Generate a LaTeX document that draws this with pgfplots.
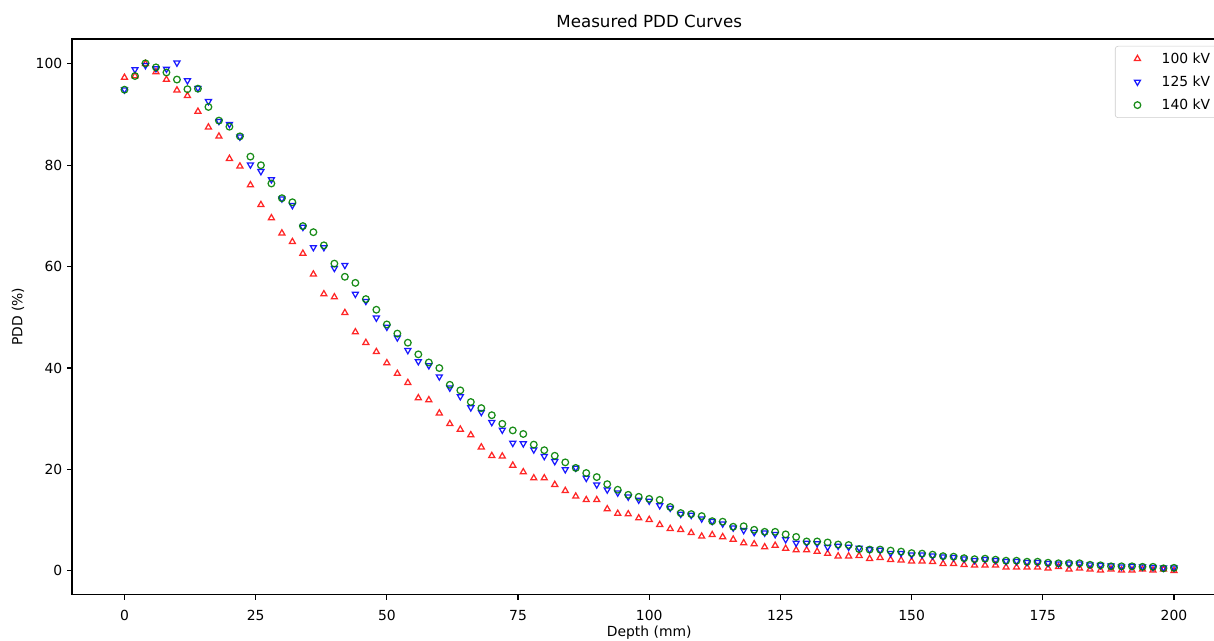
\documentclass[border=0pt]{standalone}
\usepackage{pgfplots}
\pgfplotsset{compat=1.18}
\usepackage{fontspec}
\setmainfont{DejaVu Sans}
\definecolor{mplgreen}{HTML}{008000}
\pgfplotsset{myleg/.style={legend image code/.code={\path[draw=none,fill=none] (0bp,-3bp) rectangle (27bp,3bp); \draw[##1, mark repeat=2, mark phase=2] plot coordinates {(0bp,0bp)(11.5bp,0bp)(23bp,0bp)};}}}
\begin{document}
\fontsize{10bp}{12bp}\selectfont
\begin{tikzpicture}
\begin{axis}[
  at={(0,0)}, anchor=south west,
  scale only axis, width=831.2bp, height=400.1bp,
  xmin=-10, xmax=210, ymin=-4.7, ymax=104.9,
  xtick={0,25,50,75,100,125,150,175,200},
  ytick={0,20,40,60,80,100},
  tick align=outside, xtick pos=bottom, ytick pos=left,
  major tick length=3.5bp,
  every tick/.style={black, line width=0.8bp},
  axis line style={line width=0.8bp, black},
  /pgf/number format/assume math mode=true,
  tick label style={font=\fontsize{10bp}{12bp}\selectfont},
  xticklabel style={yshift=-4bp},
  every axis title shift=0pt,
  title={Measured PDD Curves},
  title style={at={(axis description cs:0.5,1)}, anchor=base, yshift=8bp, font=\fontsize{12bp}{14bp}\selectfont},
  xlabel={Depth (mm)},
  xlabel style={at={(axis description cs:0.5,-0.0684)}, anchor=center, font=\fontsize{10bp}{12bp}\selectfont},
  ylabel={PDD (\%)},
  ylabel style={at={(axis description cs:-0.0468,0.5)}, anchor=center, font=\fontsize{10bp}{12bp}\selectfont},
  legend style={at={(1,1)}, anchor=north east, xshift=-5bp, yshift=-5bp,
    draw=black!20, rounded corners=2bp, font=\fontsize{10bp}{12bp}\selectfont,
    row sep=3.6bp, inner xsep=4.5bp, inner ysep=2.5bp},
  legend cell align=left,
]
\addplot[only marks, myleg, mark=triangle, mark size=2.5bp, draw=red, draw opacity=0.85, line width=0.9bp] coordinates {
(0,97.3)(2,97.6)(4,100.0)(6,98.4)(8,96.9)(10,94.8)(12,93.7)(14,90.6)(16,87.5)(18,85.7)
(20,81.3)(22,79.8)(24,76.1)(26,72.2)(28,69.6)(30,66.6)(32,64.9)(34,62.6)(36,58.5)(38,54.6)
(40,54.0)(42,50.9)(44,47.1)(46,45.0)(48,43.2)(50,41.0)(52,38.9)(54,37.1)(56,34.1)(58,33.7)
(60,31.1)(62,29.0)(64,27.9)(66,26.8)(68,24.4)(70,22.7)(72,22.6)(74,20.8)(76,19.5)(78,18.3)
(80,18.3)(82,17.0)(84,15.8)(86,14.7)(88,14.0)(90,14.0)(92,12.2)(94,11.3)(96,11.2)(98,10.4)
(100,10.1)(102,9.1)(104,8.3)(106,8.1)(108,7.5)(110,6.8)(112,7.1)(114,6.7)(116,6.2)(118,5.5)
(120,5.3)(122,4.7)(124,5.0)(126,4.4)(128,4.1)(130,4.1)(132,3.8)(134,3.4)(136,2.9)(138,2.9)
(140,3.0)(142,2.4)(144,2.6)(146,2.2)(148,2.1)(150,1.9)(152,1.9)(154,1.8)(156,1.4)(158,1.4)
(160,1.2)(162,1.1)(164,1.1)(166,1.1)(168,0.7)(170,0.7)(172,0.7)(174,0.7)(176,0.5)(178,0.8)
(180,0.3)(182,0.5)(184,0.3)(186,0.1)(188,0.3)(190,0.1)(192,0.1)(194,0.3)(196,0.1)(198,0.3)
(200,0.0)};
\addlegendentry{100 kV}
\addplot[only marks, myleg, mark=triangle, mark options={rotate=180}, mark size=2.5bp, draw=blue, draw opacity=0.9, line width=0.9bp] coordinates {
(0,94.9)(2,98.9)(4,99.7)(6,99.1)(8,99.0)(10,100.2)(12,96.7)(14,95.2)(16,92.6)(18,88.7)
(20,88.1)(22,85.6)(24,80.1)(26,78.8)(28,77.2)(30,73.4)(32,72.1)(34,67.8)(36,63.8)(38,63.8)
(40,59.7)(42,60.3)(44,54.6)(46,53.2)(48,49.9)(50,48.1)(52,46.0)(54,43.5)(56,41.3)(58,40.5)
(60,38.3)(62,36.1)(64,34.4)(66,32.2)(68,31.3)(70,29.3)(72,27.8)(74,25.2)(76,25.1)(78,23.9)
(80,22.6)(82,21.6)(84,20.0)(86,20.3)(88,18.3)(90,17.0)(92,16.0)(94,15.4)(96,14.6)(98,14.0)
(100,13.8)(102,12.9)(104,12.4)(106,11.2)(108,11.0)(110,10.3)(112,9.8)(114,9.3)(116,8.5)(118,8.0)
(120,7.6)(122,7.5)(124,7.2)(126,6.2)(128,5.5)(130,5.5)(132,5.4)(134,4.7)(136,4.9)(138,4.7)
(140,4.5)(142,4.2)(144,4.1)(146,3.5)(148,3.5)(150,3.2)(152,3.2)(154,3.0)(156,2.8)(158,2.7)
(160,2.4)(162,2.1)(164,2.3)(166,2.1)(168,1.9)(170,1.9)(172,1.7)(174,1.7)(176,1.5)(178,1.4)
(180,1.4)(182,1.4)(184,1.2)(186,1.1)(188,1.0)(190,0.8)(192,0.9)(194,0.8)(196,0.7)(198,0.6)
(200,0.6)};
\addlegendentry{125 kV}
\addplot[only marks, myleg, mark=o, mark size=2.4bp, draw=mplgreen, draw opacity=0.9, line width=0.9bp] coordinates {
(0,94.9)(2,97.6)(4,100.1)(6,99.3)(8,98.3)(10,96.9)(12,95.0)(14,95.1)(16,91.5)(18,88.8)
(20,87.6)(22,85.7)(24,81.7)(26,80.0)(28,76.4)(30,73.5)(32,72.7)(34,68.0)(36,66.8)(38,64.2)
(40,60.6)(42,58.0)(44,56.8)(46,53.6)(48,51.5)(50,48.6)(52,46.8)(54,45.0)(56,42.7)(58,41.1)
(60,40.0)(62,36.7)(64,35.6)(66,33.3)(68,32.1)(70,30.7)(72,29.0)(74,27.7)(76,27.0)(78,24.9)
(80,23.8)(82,22.7)(84,21.4)(86,20.3)(88,19.3)(90,18.5)(92,17.1)(94,16.0)(96,15.0)(98,14.6)
(100,14.2)(102,14.0)(104,12.6)(106,11.4)(108,11.2)(110,10.8)(112,9.8)(114,9.7)(116,8.7)(118,8.8)
(120,8.1)(122,7.7)(124,7.7)(126,7.2)(128,6.7)(130,5.8)(132,5.8)(134,5.6)(136,5.2)(138,5.1)
(140,4.3)(142,4.2)(144,4.2)(146,4.0)(148,3.8)(150,3.5)(152,3.4)(154,3.2)(156,2.9)(158,2.8)
(160,2.5)(162,2.3)(164,2.4)(166,2.2)(168,2.0)(170,2.0)(172,1.8)(174,1.8)(176,1.6)(178,1.5)
(180,1.5)(182,1.5)(184,1.2)(186,1.1)(188,0.9)(190,0.9)(192,0.9)(194,0.8)(196,0.8)(198,0.5)
(200,0.6)};
\addlegendentry{140 kV}
\end{axis}
\pgfresetboundingbox
\useasboundingbox (-51.84bp,-33.34bp) rectangle (822.24bp,428.18bp);
\end{tikzpicture}
\end{document}
